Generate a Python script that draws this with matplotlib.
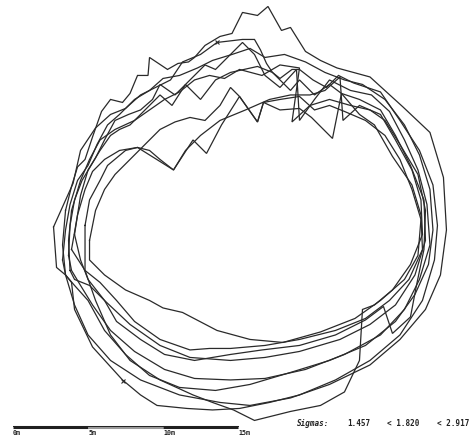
import matplotlib
matplotlib.use("Agg")
import matplotlib.pyplot as plt

# walked loops, positions in metres
walk_a = [(3.5,13.3),(3.9,14.9),(4.3,16.2),(4.8,16.7),(5.3,18.2),(5.9,19.9),(6.5,20.7),(7.3,20.5),(7.8,21.1),(8.3,22.3),(9.0,22.3),(9.1,23.5),(10.3,22.7),(11.0,23.1),(11.7,23.2),(12.1,23.5),(12.8,24.3),(13.8,24.9),(14.6,25.1),(15.3,26.5),(16.3,26.3),(17.0,26.9),(17.9,25.3),(18.5,25.5),(19.5,23.9),(20.5,23.3),(21.6,22.8),(23.8,22.2),(26.0,20.2),(27.8,18.5),(28.7,15.5),(28.9,12.0),(28.5,9.0),(27.5,6.7),(25.8,4.7),(23.8,3.0),(21.1,1.7),(18.5,0.8),(15.8,0.3),(13.8,0.5),(11.1,1.0),(8.5,2.0),(6.5,3.3),(5.0,5.0),(4.1,7.0),(3.5,9.0),(3.3,11.0)]
walk_b = [(2.7,12.2),(2.9,9.5),(3.5,9.0),(3.9,8.5),(4.1,6.7),(5.3,4.2),(7.3,2.0),(8.5,1.0),(9.6,0.3),(11.6,0.1),(13.3,0.0),(15.1,0.1),(17.1,0.5),(19.1,1.0),(21.5,2.0),(23.8,3.3),(25.8,5.0),(27.3,7.3),(28.1,10.0),(28.3,12.3),(28.0,15.0),(27.1,17.3),(25.8,19.3),(24.5,21.2),(23.6,21.5),(22.7,21.8),(21.7,22.3),(20.9,21.5),(20.0,22.0),(19.1,22.7),(18.6,22.7),(17.8,22.1),(17.3,22.5),(16.9,23.1),(16.5,24.0),(16.1,24.7),(15.3,24.7),(13.6,24.5),(12.5,23.7),(11.3,23.2),(10.5,22.0),(9.5,21.5),(8.5,21.0),(7.5,20.1),(6.5,19.7),(5.5,18.8),(4.5,17.3),(4.0,15.1)]
walk_c = [(4.1,11.7),(4.5,14.3),(5.0,16.0),(5.8,17.3),(6.5,18.3),(7.1,18.7),(7.8,19.0),(8.8,20.0),(9.8,21.0),(10.6,20.3),(11.5,21.7),(12.5,20.7),(13.5,22.0),(14.5,22.5),(16.3,22.9),(17.3,22.5),(18.5,21.3),(19.1,22.0),(20.1,21.0),(21.1,21.7),(21.9,21.1),(23.1,20.7),(24.5,20.0),(25.5,18.3),(26.5,16.3),(27.4,14.0),(27.5,11.3),(26.8,9.0),(25.5,7.0),(23.8,5.7),(21.8,4.7),(19.1,3.9),(16.8,3.5),(14.5,3.3),(11.8,3.5),(9.8,4.3),(7.8,5.7),(6.1,7.3),(5.0,8.7),(4.5,10.0)]
walk_d = [(3.9,10.7),(4.3,13.0),(4.8,14.7),(5.3,15.9),(6.1,16.7),(7.1,17.3),(8.3,17.5),(9.1,17.0),(10.7,16.0),(12.0,18.0),(12.9,17.1),(13.9,19.0),(15.1,20.9),(16.3,19.2),(16.7,20.5),(17.8,20.0),(19.1,20.1),(19.9,19.5),(21.3,18.1),(21.9,21.1),(23.1,19.7),(24.1,19.0),(25.3,16.9),(26.6,15.0),(27.2,13.0),(27.3,10.7),(26.4,8.7),(25.1,7.3),(23.5,6.1),(21.5,5.3),(19.1,4.7),(16.8,4.3),(14.5,4.1),(13.1,4.1),(11.8,4.0),(9.8,4.7),(8.1,5.9),(6.9,7.3),(5.8,8.5),(4.8,9.3)]
walk_e = [(3.8,9.3),(3.7,11.3),(3.9,13.3),(4.5,15.3),(5.1,16.7),(5.8,18.0),(6.8,18.7),(8.1,19.3),(9.1,20.0),(10.1,20.7),(11.1,21.2),(12.1,22.0),(13.1,22.3),(14.1,22.1),(15.1,22.7),(16.6,22.3),(17.8,23.0),(19.1,22.8),(18.6,19.2),(19.8,20.3),(21.1,20.7),(22.5,20.3),(23.8,20.0),(24.8,19.3),(25.8,17.7),(27.0,15.7),(27.5,13.3),(27.4,10.7),(26.9,8.3),(26.5,6.2),(25.3,5.1),(24.7,6.9),(23.5,6.0),(21.5,5.0),(19.1,4.3),(16.6,4.0),(14.5,3.7),(12.1,3.3),(10.1,3.7),(8.5,4.7),(6.9,5.9),(6.1,7.3),(5.1,8.3),(4.1,8.7)]
walk_f = [(4.8,12.3),(5.1,14.0),(5.8,15.3),(6.3,16.3),(7.5,17.3),(8.3,17.5),(9.1,17.3),(9.8,16.7),(10.7,16.0),(11.5,17.3),(12.5,18.3),(13.8,19.3),(15.5,20.0),(17.1,20.7),(18.5,21.0),(19.8,21.0),(20.8,21.3),(21.8,22.2),(22.0,19.3),(23.1,20.3),(24.5,19.7),(25.5,18.0),(26.6,16.0),(27.2,14.0),(27.3,11.7),(26.5,9.7),(25.3,8.0),(24.1,7.0),(23.3,6.7),(23.1,3.3),(22.1,1.2),(20.5,0.3),(18.5,-0.1),(16.1,-0.7),(14.7,0.0),(13.3,0.5),(12.0,1.0),(9.8,2.0),(7.8,3.3),(6.5,5.0),(5.5,7.3),(4.8,9.3)]
walk_g = [(5.1,11.3),(5.5,13.3),(6.1,14.7),(6.8,15.7),(7.8,16.7),(8.8,17.7),(9.8,18.7),(10.8,19.2),(11.8,19.5),(12.8,19.3),(13.8,20.3),(14.5,21.5),(15.1,20.9),(16.3,19.2),(16.7,20.5),(17.8,20.7),(19.1,20.9),(20.1,20.0),(21.1,20.3),(22.1,19.9),(23.5,19.3),(24.8,18.3),(25.8,16.7),(26.6,14.7),(27.2,12.7),(27.0,10.3),(26.1,8.7),(24.5,7.3),(22.8,6.1),(20.5,5.2),(18.0,4.5),(15.8,4.7),(13.6,5.3),(11.3,6.5),(10.0,6.8),(9.1,7.3),(7.5,8.0),(6.1,9.0),(5.1,10.0)]
walk_h = [(3.7,10.3),(3.8,12.3),(4.1,14.0),(4.6,15.3),(5.5,16.8),(6.1,18.0),(6.8,19.3),(7.7,19.7),(8.5,20.0),(9.3,20.7),(9.8,21.7),(10.8,21.0),(11.8,22.0),(12.8,23.0),(13.5,22.7),(14.0,23.2),(15.3,24.5),(16.1,23.7),(16.8,22.3),(17.8,21.5),(18.9,22.7),(19.1,19.3),(20.1,20.7),(21.1,22.0),(22.5,21.3),(23.9,21.0),(25.1,19.9),(26.1,18.0),(27.0,16.0),(27.6,13.7),(27.8,11.0),(27.1,8.7),(26.1,6.7),(24.5,5.0),(22.1,3.7),(19.5,2.7),(16.8,2.1),(14.5,2.0),(12.1,2.1),(10.1,2.7),(8.1,3.9),(6.5,5.3),(5.3,7.0),(4.5,8.3),(3.9,9.3)]
walk_i = [(3.3,10.0),(3.5,12.0),(3.8,13.7),(4.3,15.3),(5.0,16.3),(5.6,17.7),(6.3,19.0),(7.1,19.7),(8.1,20.7),(9.1,21.3),(10.0,22.1),(11.1,22.3),(12.3,22.8),(13.3,23.3),(14.6,23.7),(15.8,24.1),(16.8,23.5),(18.1,23.7),(19.5,23.2),(20.8,22.5),(22.1,22.0),(23.3,21.7),(24.8,20.7),(26.1,19.0),(27.1,17.0),(27.8,14.7),(28.0,12.0),(27.7,9.7),(26.8,7.7),(25.5,5.9),(23.5,4.3),(21.1,3.3),(18.5,2.5),(15.8,1.7),(13.5,1.3),(11.1,1.5),(9.1,2.3),(7.5,3.7),(6.1,5.3),(5.0,7.3),(4.1,8.3),(3.5,9.0)]

walks = [walk_a, walk_b, walk_c, walk_d, walk_e, walk_f, walk_g, walk_h, walk_i]

start_mark = (13.6, 24.5)
end_mark = (7.3, 1.9)

scale_ticks = [0, 5, 10, 15]
scale_labels = ["0m", "5m", "10m", "15m"]
sigmas = ["1.457", "< 1.820", "< 2.917"]

fig = plt.figure(figsize=(4.70, 4.38), dpi=100)
ax = fig.add_axes([0, 0, 1, 1])
ax.set_xlim(-0.87, 30.47)
ax.set_ylim(-1.87, 27.33)
ax.axis("off")

for w in walks:
    xs = [p[0] for p in w] + [w[0][0]]
    ys = [p[1] for p in w] + [w[0][1]]
    ax.plot(xs, ys, color="#2a2a2a", lw=0.9, solid_joinstyle="miter")

ax.plot(*start_mark, marker="x", ms=3, mew=0.8, color="#2a2a2a")
ax.plot(*end_mark, marker="x", ms=3, mew=0.8, color="#2a2a2a")

# scale bar
bar_y = -1.13
seg_colors = ["#202020", "#9a9a9a", "#202020"]
for k in range(3):
    ax.plot([scale_ticks[k], scale_ticks[k + 1]], [bar_y, bar_y],
            color=seg_colors[k], lw=2.2, solid_capstyle="butt")
ax.plot([scale_ticks[0], scale_ticks[-1]], [bar_y + 0.08, bar_y + 0.08],
        color="#202020", lw=0.7)
for t, lab in zip(scale_ticks, scale_labels):
    ax.text(t, bar_y - 0.18, lab, fontsize=4.8, fontweight="bold",
            family="DejaVu Sans Mono", ha="left", va="top", color="#222222")

# sigma values
ty = -0.93
ax.text(18.93, ty, "Sigmas:", fontsize=5.5, fontweight="bold", style="italic",
        family="DejaVu Sans Mono", ha="left", va="center", color="#222222")
for xpos, s in zip([22.27, 24.93, 28.27], sigmas):
    ax.text(xpos, ty, s, fontsize=5.5, fontweight="bold",
            family="DejaVu Sans Mono", ha="left", va="center", color="#222222")

fig.savefig("out.png", dpi=100)
